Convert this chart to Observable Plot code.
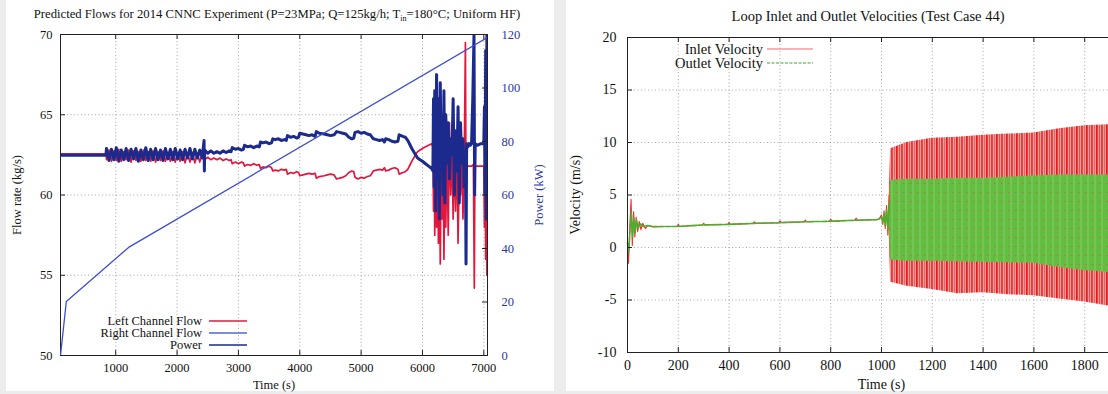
<!DOCTYPE html>
<html><head><meta charset="utf-8">
<script src="https://cdn.jsdelivr.net/npm/d3@7"></script>
<script src="https://cdn.jsdelivr.net/npm/@observablehq/plot@0.6"></script>
<style>
html,body{margin:0;padding:0;width:1108px;height:394px;overflow:hidden;background:#ececec;font-family:"Liberation Serif",serif;}
#root{position:relative;width:1108px;height:394px;overflow:hidden;}
.panel{position:absolute;background:#fff;}
.title{position:absolute;white-space:nowrap;transform:translate(-50%,-50%);color:#111;}
.leg{position:absolute;white-space:nowrap;color:#111;transform:translateY(-50%);text-align:right;line-height:1;}
.legline{position:absolute;line-height:0;}
.legline svg{display:block;}
svg.plot{position:absolute;top:0;}
</style></head><body><div id="root">
<div class="panel" style="left:6px;top:0;width:548px;height:391px"></div>
<div class="panel" style="left:566px;top:0;width:542px;height:391px"></div>
</div>
<script>
// ---------- Left panel data ----------
const leftXTicks = [1000,2000,3000,4000,5000,6000,7000];
const flowTicks = [50,55,60,65,70];
const powerTicks = [0,20,40,60,80,100,120];

const powerT = [100, 195, 1210, 7060];
const powerKW = [0, 20.2, 40.4, 118.9];

// Left channel flow (red)
const leftT = [100,840,
 850,890,930,970,1010,1050,1090,1130,1170,1210,1250,1290,1330,1370,1410,1450,1490,1530,1570,1610,1650,1690,1730,1770,1810,1850,1890,1930,1970,2010,2050,2090,2130,2170,2210,2250,2290,2330,2370,2410,
 2450,2500,2550,2600,2650,2700,2750,2800,2850,2880,2900,2950,3000,3050,3080,3100,3150,3200,3250,3300,3340,3360,3400,3450,3500,3540,3560,3600,3650,3700,3750,3780,3800,3850,3900,3950,3980,4000,4050,4100,4150,4200,4250,4270,4320,4400,4450,4500,4560,4600,4650,4700,4750,4800,4850,4880,4900,4950,5000,5050,5100,5150,5200,5250,5300,5350,5380,5400,5450,5500,5550,5600,5620,5680,5720,5760,5800,5840,5880,5920,5960,6000,6050,6100,6150,
 6170,6180,6190,6200,6215,6230,6245,6260,6275,6290,6305,6320,6335,6350,6365,6380,6400,6420,6440,6460,6480,6500,6520,6540,6560,6580,6600,6620,6640,6660,6680,6700,6710,6720,6760,6800,6830,6845,6855,6900,6950,7000,7010,7020,7030,7040,7050,7060];
const leftV = [62.56,62.56,
 62.2,62.8,62.1,62.75,62.15,62.85,62.1,62.7,62.2,62.8,62.05,62.75,62.15,62.7,62.1,62.8,62.15,62.7,62.1,62.75,62.05,62.7,62.15,62.75,62.1,62.65,62.1,62.7,62.05,62.65,62.1,62.7,62.0,62.6,62.05,62.65,62.0,62.6,62.05,62.55,
 62.2,62.35,62.2,62.3,62.2,62.3,62.15,62.25,62.15,62.2,61.95,62.05,61.95,62.05,62.0,61.8,61.9,61.85,61.95,61.85,61.9,61.65,61.75,61.7,61.8,61.7,61.5,61.55,61.5,61.6,61.55,61.6,61.3,61.4,61.35,61.45,61.4,61.2,61.25,61.3,61.35,61.3,61.35,61.05,61.15,61.2,61.25,61.3,61.25,61.0,61.05,61.1,61.2,61.4,61.5,61.45,61.1,61.0,61.1,61.05,61.15,61.2,61.5,61.55,61.6,61.55,61.7,61.5,61.55,61.65,61.7,61.6,61.3,61.4,61.45,61.6,61.9,62.2,62.45,62.7,62.8,62.9,63.0,63.1,63.2,
 63.0,59.0,64.5,57.5,65.5,58.0,64.0,57.0,63.5,55.7,62.0,58.5,64.0,56.0,61.5,58.0,63.0,57.5,64.5,60.0,63.0,58.5,62.5,59.0,63.5,57.0,61.5,60.0,62.5,58.5,61.8,69.5,60.0,61.8,61.8,61.8,61.9,54.2,61.8,61.8,61.8,61.8,58.0,63.0,56.0,60.0,55.0,57.0];

// Right channel flow (navy)
const rightT = [100,840,
 850,890,930,970,1010,1050,1090,1130,1170,1210,1250,1290,1330,1370,1410,1450,1490,1530,1570,1610,1650,1690,1730,1770,1810,1850,1890,1930,1970,2010,2050,2090,2130,2170,2210,2250,2290,2330,2370,2410,2440,2445,
 2450,2500,2550,2600,2650,2700,2750,2800,2850,2880,2900,2950,3000,3050,3080,3100,3150,3200,3250,3300,3340,3360,3400,3450,3500,3540,3560,3600,3650,3700,3750,3780,3800,3850,3900,3950,3980,4000,4050,4100,4150,4200,4250,4270,4320,4400,4450,4500,4560,4600,4650,4700,4750,4800,4850,4880,4900,4950,5000,5050,5100,5150,5200,5250,5300,5350,5380,5400,5450,5500,5550,5600,5620,5680,5720,5760,5800,5840,5880,5920,5960,6000,6050,6100,6150,
 6170,6180,6190,6200,6215,6230,6245,6260,6275,6290,6305,6320,6335,6350,6365,6380,6400,6420,6440,6460,6480,6500,6520,6540,6560,6580,6600,6620,6640,6660,6680,6700,6710,6720,6740,6760,6780,6800,6820,6840,6850,6860,6900,6950,7000,7010,7020,7030,7040,7050,7055,7060];
const rightV = [62.48,62.48,
 62.9,62.15,62.85,62.2,62.95,62.1,62.8,62.2,62.9,62.15,62.85,62.25,62.9,62.1,62.8,62.2,62.95,62.15,62.85,62.2,62.9,62.2,62.8,62.15,62.9,62.25,62.85,62.2,62.9,62.25,62.8,62.2,62.85,62.3,62.9,62.25,62.85,62.3,62.8,62.3,63.4,61.5,
 62.8,62.6,62.75,62.6,62.7,62.6,62.75,62.65,62.75,62.7,62.95,62.85,62.9,62.8,62.85,63.1,63.0,63.05,62.95,63.05,63.0,63.3,63.25,63.3,63.2,63.25,63.5,63.45,63.5,63.4,63.45,63.4,63.7,63.6,63.65,63.55,63.6,63.85,63.8,63.75,63.7,63.75,63.65,63.95,63.85,63.8,63.75,63.7,63.75,63.95,63.9,63.85,63.8,63.6,63.5,63.55,63.9,63.95,63.85,63.9,63.8,63.75,63.5,63.45,63.4,63.45,63.3,63.5,63.45,63.35,63.3,63.35,63.75,63.65,63.6,63.4,63.1,62.8,62.55,62.3,62.2,62.1,61.95,61.8,61.65,
 61.5,66.0,60.5,66.5,59.0,67.5,61.0,66.0,58.5,67.0,62.5,64.0,60.0,66.5,59.5,65.0,62.0,64.5,61.0,63.5,62.5,66.0,60.0,64.0,61.5,65.5,59.5,64.5,62.0,63.5,60.5,62.8,55.7,63.2,63.0,63.2,63.1,63.2,66.0,70.0,60.0,63.2,63.1,63.2,63.2,65.5,60.0,69.0,58.5,70.0,61.0,64.0];

// ---------- Right panel data ----------
const velXTicks = [0,200,400,600,800,1000,1200,1400,1600,1800,2000];
const velYTicks = [-10,-5,0,5,10,15,20];

const inletT = [0,4,9,14,19,24,29,34,40,46,53,60,70,80,100,150,195,200,205,295,300,305,395,400,405,495,500,505,595,600,605,695,700,705,795,800,805,895,900,905,980,990,1000,1005,1010,1015,1020,1025,1030];
const inletV = [0.3,-1.5,2.0,4.6,0.2,3.4,1.0,2.9,1.5,2.5,1.7,2.3,1.8,2.1,1.95,2.0,2.0,2.2,2.0,2.15,2.3,2.15,2.2,2.4,2.2,2.3,2.45,2.3,2.35,2.55,2.4,2.45,2.6,2.45,2.5,2.7,2.5,2.6,2.8,2.6,2.65,2.7,3.1,2.2,3.5,1.8,4.0,1.2,5.0];
const outletT = [0,5,10,15,20,25,30,36,42,50,60,80,100,200,300,400,500,600,700,800,900,980,990,1000,1005,1010,1015,1020,1025,1030];
const outletV = [0.5,-0.4,1.6,3.4,1.0,2.8,1.4,2.6,1.8,2.3,2.0,2.1,2.0,2.0,2.15,2.2,2.3,2.35,2.45,2.5,2.6,2.65,2.7,2.9,2.4,3.2,2.1,3.6,1.8,4.2];

// oscillation envelopes after onset
const envT     = [1030,1036,1100,1200,1300,1400,1500,1600,1700,1800,1900,2000];
const inletHi  = [5.0,9.4,10.0,10.4,10.5,10.7,10.8,10.9,11.3,11.6,11.7,11.8];
const inletLo  = [1.2,-3.3,-3.7,-4.0,-4.4,-4.3,-4.5,-4.6,-4.9,-5.2,-5.6,-5.7];
const outletHi = [4.2,6.4,6.5,6.5,6.6,6.6,6.7,6.8,6.9,6.9,6.9,6.9];
const outletLo = [1.8,-1.2,-1.3,-1.3,-1.35,-1.4,-1.45,-1.5,-1.9,-2.2,-2.4,-2.5];

// ---------- build ----------
const root = document.getElementById("root");
const font = "Liberation Serif, Times New Roman, serif";
const zip = (t, v) => t.map((x, i) => ({t: x, v: v[i]}));
const grid = {stroke: "#777", strokeOpacity: 0.8, strokeDasharray: "1,2.5", strokeWidth: 0.8};

// Left: flows
const LW = 560, LH = 394, LM = {l: 60, r: 73, t: 34, b: 39};
const lfw = LW - LM.l - LM.r, lfh = LH - LM.t - LM.b;
const leftPlot = Plot.plot({
  width: LW, height: LH, marginLeft: LM.l, marginRight: LM.r, marginTop: LM.t, marginBottom: LM.b,
  style: {background: "transparent", fontFamily: font, fontSize: "12.5px", color: "#111"},
  x: {domain: [100, 7060]},
  y: {domain: [50, 70]},
  marks: [
    Plot.gridX(leftXTicks, grid),
    Plot.gridY(flowTicks, grid),
    Plot.line(zip(leftT, leftV), {x: "t", y: "v", stroke: "#e3173e", strokeWidth: 1.7, clip: true}),
    Plot.line(zip(rightT, rightV), {x: "t", y: "v", stroke: "#1b2a8c", strokeWidth: 3, clip: true}),
    Plot.frame({stroke: "#222", strokeWidth: 1}),
    Plot.ruleX(leftXTicks, {insetTop: lfh - 5, stroke: "#222"}),
    Plot.ruleX(leftXTicks, {insetBottom: lfh - 5, stroke: "#222"}),
    Plot.ruleY(flowTicks, {insetRight: lfw - 5, stroke: "#222"}),
    Plot.axisX(leftXTicks, {tickSize: 0, tickPadding: 8, tickFormat: d => String(d), label: "Time (s)", labelAnchor: "center", labelArrow: "none", labelOffset: 33}),
    Plot.axisY(flowTicks, {tickSize: 0, tickPadding: 8, label: "Flow rate (kg/s)", labelAnchor: "center", labelArrow: "none", labelOffset: 48})
  ]
});
leftPlot.classList.add("plot"); leftPlot.style.left = "0px";
root.appendChild(leftPlot);

// Left: power (right axis overlay)
const powerPlot = Plot.plot({
  width: LW, height: LH, marginLeft: LM.l, marginRight: LM.r, marginTop: LM.t, marginBottom: LM.b,
  style: {background: "transparent", fontFamily: font, fontSize: "12.5px", color: "#2a37a6"},
  x: {domain: [100, 7060], axis: null},
  y: {domain: [0, 120], axis: null},
  marks: [
    Plot.line(zip(powerT, powerKW), {x: "t", y: "v", stroke: "#3d4fd0", strokeWidth: 1.3, clip: true}),
    Plot.ruleY(powerTicks, {insetLeft: lfw - 5, stroke: "#222"}),
    Plot.axisY(powerTicks, {anchor: "right", tickSize: 0, tickPadding: 14, label: "Power (kW)", labelAnchor: "center", labelArrow: "none", labelOffset: 55})
  ]
});
powerPlot.classList.add("plot"); powerPlot.style.left = "0px";
root.appendChild(powerPlot);

// Right: velocities
const RW = 600, RH = 394, RM = {l: 61, r: 31, t: 37, b: 42};
const rfw = RW - RM.l - RM.r, rfh = RH - RM.t - RM.b;
const env = envT.map((t, i) => ({t, ih: inletHi[i], il: inletLo[i], oh: outletHi[i], ol: outletLo[i]}));
const velPlot = Plot.plot({
  width: RW, height: RH, marginLeft: RM.l, marginRight: RM.r, marginTop: RM.t, marginBottom: RM.b,
  style: {background: "transparent", fontFamily: font, fontSize: "14px", color: "#111"},
  x: {domain: [0, 2000]},
  y: {domain: [-10, 20]},
  marks: [
    Plot.gridX(velXTicks, grid),
    Plot.gridY(velYTicks, grid),
    Plot.areaY(env, {x: "t", y1: "il", y2: "ih", fill: "url(#redStripes)", curve: "linear"}),
    Plot.areaY(env, {x: "t", y1: "ol", y2: "oh", fill: "url(#greenFill)", curve: "linear"}),
    Plot.line(zip(inletT, inletV), {x: "t", y: "v", stroke: "#ee3030", strokeWidth: 1.1}),
    Plot.line(zip(outletT, outletV), {x: "t", y: "v", stroke: "#4cae2c", strokeWidth: 1.6, strokeDasharray: "5,1.5"}),
    Plot.frame({stroke: "#222", strokeWidth: 1}),
    Plot.ruleX(velXTicks, {insetTop: rfh - 5, stroke: "#222"}),
    Plot.ruleX(velXTicks, {insetBottom: rfh - 5, stroke: "#222"}),
    Plot.ruleY(velYTicks, {insetRight: rfw - 5, stroke: "#222"}),
    Plot.ruleY(velYTicks, {insetLeft: rfw - 5, stroke: "#222"}),
    Plot.axisX(velXTicks.filter(d => d < 2000), {tickSize: 0, tickPadding: 8, tickFormat: d => String(d), label: "Time (s)", labelAnchor: "center", labelArrow: "none", labelOffset: 36}),
    Plot.axisY(velYTicks, {tickSize: 0, tickPadding: 11, tickFormat: d => String(d), label: "Velocity (m/s)", labelAnchor: "center", labelArrow: "none", labelOffset: 57})
  ]
});
d3.select(velPlot).insert("defs", ":first-child").html(
  `<pattern id="redStripes" width="10" height="10" patternUnits="userSpaceOnUse">
     <rect width="10" height="10" fill="#f39c9c"/>
     <rect x="0" width="1.7" height="10" fill="#e31a1a"/>
     <rect x="3" width="1" height="10" fill="#ec4c4c"/>
     <rect x="5.2" width="1.5" height="10" fill="#e42222"/>
     <rect x="8" width="1" height="10" fill="#ee6262"/>
   </pattern>
   <pattern id="greenFill" width="7" height="9" patternUnits="userSpaceOnUse">
     <rect width="7" height="9" fill="#62bd40"/>
     <rect x="3.5" width="1" height="9" fill="#86cf68"/>
     <rect x="1" y="3" width="1.5" height="1" fill="#e05050" opacity="0.7"/>
   </pattern>`);
velPlot.classList.add("plot"); velPlot.style.left = "566px";
root.appendChild(velPlot);

// ---------- titles & legends ----------
function addDiv(cls, html, style) {
  const d = document.createElement("div"); d.className = cls; d.innerHTML = html;
  Object.assign(d.style, style); root.appendChild(d); return d;
}
addDiv("title", "Predicted Flows for 2014 CNNC Experiment (P=23MPa; Q=125kg/h; T<sub style='font-size:8px'>in</sub>=180°C; Uniform HF)", {left: "277px", top: "15px", fontSize: "12.7px"});
addDiv("title", "Loop Inlet and Outlet Velocities (Test Case 44)", {left: "868px", top: "16px", fontSize: "14.5px"});

const leftLegend = [["Left Channel Flow", "#e3173e", ""], ["Right Channel Flow", "#5565d0", ""], ["Power", "#1b2a8c", ""]];
leftLegend.forEach(([name, col, dash], i) => {
  const y = 321 + i * 12;
  addDiv("leg", name, {right: (1108 - 202) + "px", top: y + "px", fontSize: "12.5px"});
  addDiv("legline", `<svg width="38" height="4"><line x1="0" y1="2" x2="38" y2="2" stroke="${col}" stroke-width="1.6"/></svg>`, {left: "209px", top: (y - 2) + "px"});
});
const rightLegend = [["Inlet Velocity", "#f06a6a", ""], ["Outlet Velocity", "#3aa52a", "3,1.5"]];
rightLegend.forEach(([name, col, dash], i) => {
  const y = 49 + i * 14;
  addDiv("leg", name, {right: (1108 - 763) + "px", top: y + "px", fontSize: "14.5px"});
  addDiv("legline", `<svg width="46" height="4"><line x1="0" y1="2" x2="46" y2="2" stroke="${col}" stroke-width="1.2" stroke-dasharray="${dash}"/></svg>`, {left: "767px", top: (y - 2) + "px"});
});
</script>
</body></html>
